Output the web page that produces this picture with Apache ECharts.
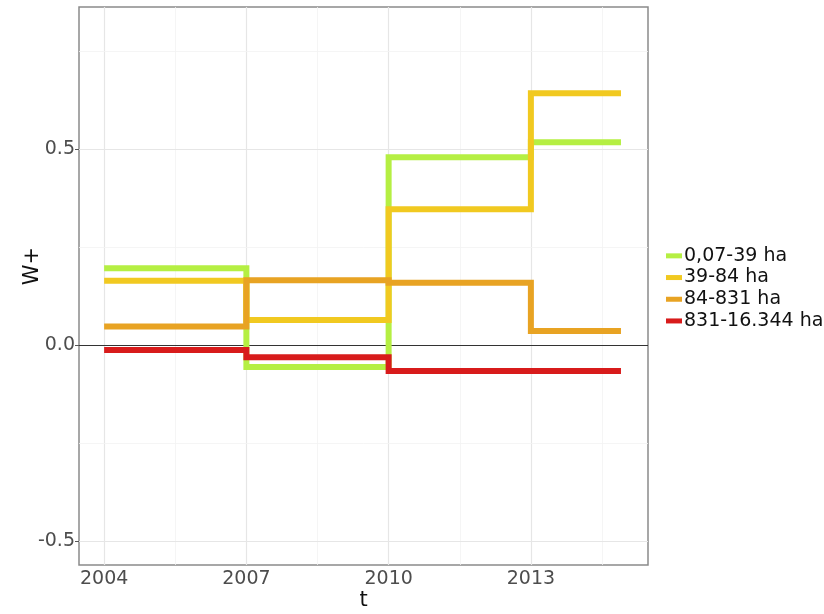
<!DOCTYPE html>
<html>
<head>
<meta charset="utf-8">
<script src="https://cdn.jsdelivr.net/npm/echarts@6/dist/echarts.min.js"></script>
<style>html,body{margin:0;padding:0;background:#fff;}#c{width:824px;height:614px;}</style>
</head>
<body>
<div id="c"></div>
<script>
// ---- data ----
const stepYears = [2004, 2007, 2010, 2013, 2014.9];
const seriesNames = ['0,07-39 ha', '39-84 ha', '84-831 ha', '831-16.344 ha'];
const vals_0_39 = [0.196, -0.056, 0.479, 0.517];
const vals_39_84 = [0.164, 0.064, 0.346, 0.642];
const vals_84_831 = [0.047, 0.165, 0.159, 0.036];
const vals_831_16344 = [-0.013, -0.031, -0.066, -0.066];
const xTickLabels = [2004, 2007, 2010, 2013];
const xMinorGrid = [2005.5, 2008.5, 2011.5, 2014.5];
const yTickLabels = [-0.5, 0.0, 0.5];
const yMinorGrid = [-0.25, 0.25, 0.75];
const colors = ['#b5ef43', '#f1c920', '#e8a323', '#d81b1b'];

function toSteps(vals) {
  const pts = stepYears.slice(0, vals.length).map((y, i) => [y, vals[i]]);
  pts.push([stepYears[vals.length], vals[vals.length - 1]]);
  return pts;
}
const allVals = [vals_0_39, vals_39_84, vals_84_831, vals_831_16344];

const gridLines = [];
xTickLabels.forEach(v => gridLines.push({xAxis: v, lineStyle: {color: '#e6e6e6', width: 1.2, type: 'solid'}}));
xMinorGrid.forEach(v => gridLines.push({xAxis: v, lineStyle: {color: '#f3f3f3', width: 0.8, type: 'solid'}}));
yTickLabels.forEach(v => gridLines.push({yAxis: v, lineStyle: {color: '#e6e6e6', width: 1.2, type: 'solid'}}));
yMinorGrid.forEach(v => gridLines.push({yAxis: v, lineStyle: {color: '#f3f3f3', width: 0.8, type: 'solid'}}));

const series = [{
  name: '_grid', type: 'line', data: [], silent: true, z: 1,
  markLine: {silent: true, z: 1, symbol: ['none', 'none'], label: {show: false}, animation: false, data: gridLines}
}, {
  name: '_zero', type: 'line', data: [], silent: true, z: 2,
  markLine: {silent: true, z: 2, symbol: ['none', 'none'], label: {show: false}, animation: false,
    data: [{yAxis: 0, lineStyle: {color: '#333', width: 1.2, type: 'solid'}}]}
}];
allVals.forEach((vals, i) => {
  series.push({
    name: seriesNames[i], type: 'line', step: 'end', showSymbol: false, symbol: 'none',
    data: toSteps(vals), z: 3 + i,
    lineStyle: {color: colors[i], width: 6, cap: 'butt', join: 'miter'},
    itemStyle: {color: colors[i]}
  });
});

const chart = echarts.init(document.getElementById('c'), null, {renderer: 'canvas'});
chart.setOption({
  animation: false,
  backgroundColor: '#fff',
  grid: {left: 79, top: 7, right: 176, bottom: 49, outerBoundsMode: 'none', containLabel: false,
    show: true, borderColor: '#8a8a8a', borderWidth: 1.5, backgroundColor: 'transparent'},
  legend: {
    data: seriesNames, orient: 'vertical', left: 666, top: 245, padding: 0,
    icon: 'rect', itemWidth: 16, itemHeight: 5, itemGap: 0,
    textStyle: {fontFamily: 'DejaVu Sans', fontSize: 19, color: '#111', lineHeight: 21.7, padding: [0, 0, 0, -3]},
    selectedMode: false
  },
  xAxis: {
    type: 'value', min: 2003.47, max: 2015.47,
    name: 't', nameLocation: 'middle', nameGap: 25, nameMoveOverlap: false,
    nameTextStyle: {fontFamily: 'DejaVu Sans', fontSize: 21, color: '#111'},
    axisLine: {show: false},
    axisTick: {show: true, length: 4, lineStyle: {color: '#555'}, customValues: xTickLabels},
    axisLabel: {fontFamily: 'DejaVu Sans', fontSize: 19, color: '#4d4d4d', margin: 5, customValues: xTickLabels, formatter: v => String(v)},
    splitLine: {show: false}
  },
  yAxis: {
    type: 'value', min: -0.561, max: 0.862,
    name: 'W+', nameLocation: 'middle', nameGap: 36, nameRotate: 90, nameMoveOverlap: false,
    nameTextStyle: {fontFamily: 'DejaVu Sans', fontSize: 21, color: '#111', padding: [0, 0, 0, 40]},
    axisLine: {show: false},
    axisTick: {show: true, length: 4, lineStyle: {color: '#555'}, customValues: yTickLabels},
    axisLabel: {fontFamily: 'DejaVu Sans', fontSize: 19, color: '#4d4d4d', margin: 4, customValues: yTickLabels, formatter: v => v.toFixed(1)},
    splitLine: {show: false}
  },
  series: series
});
</script>
</body>
</html>
